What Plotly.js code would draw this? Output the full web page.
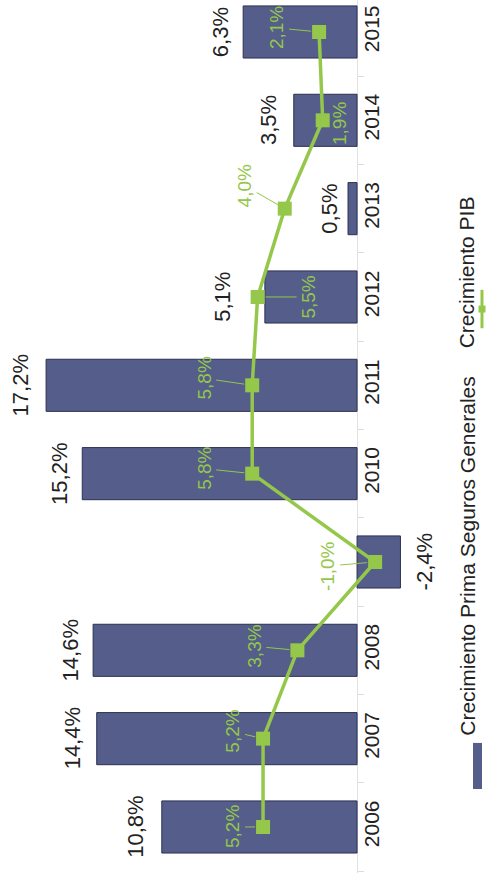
<!DOCTYPE html>
<html>
<head>
<meta charset="utf-8">
<script src="https://cdn.plot.ly/plotly-3.0.1.min.js"></script>
<style>html,body{margin:0;padding:0;background:#fff;}#chart{width:495px;height:873px;}</style>
</head>
<body>
<div id="chart"></div>
<script>
const years = ['2006','2007','2008','2009','2010','2011','2012','2013','2014','2015'];
const primaGrowth = [10.8, 14.4, 14.6, -2.4, 15.2, 17.2, 5.1, 0.5, 3.5, 6.3];
const pibGrowth = [5.2, 5.2, 3.3, -1.0, 5.8, 5.8, 5.5, 4.0, 1.9, 2.1];
const seriesNames = ['Crecimiento Prima Seguros Generales', 'Crecimiento PIB'];

const barColor = '#555d8b';
const green = '#94c74a';
const font = 'Liberation Sans, Arial, sans-serif';

// label placement (pixels)
const pibLabelOffsets = [[-30,0],[-30,-7],[-43,-4],[-47,4],[-48,-5],[-48,-7],[51,0],[-40,-23],[17,3],[-42,-4]];
const barLabelGap = [26,24,23,25,23,26,42,18,25,22];

const fmt = v => v.toFixed(1).replace('.', ',') + '%';

const traces = [
  {
    type: 'bar', orientation: 'h', name: seriesNames[0],
    x: primaGrowth, y: years,
    marker: {color: barColor, line: {color: '#2c3150', width: 1}},
    cliponaxis: false, hoverinfo: 'skip'
  },
  {
    type: 'scatter', mode: 'lines+markers', name: seriesNames[1],
    x: pibGrowth, y: years,
    line: {color: green, width: 3.5},
    marker: {symbol: 'square', size: 14, color: green},
    cliponaxis: false, hoverinfo: 'skip'
  }
];

const annotations = [];
primaGrowth.forEach((v, i) => annotations.push({
  x: v, y: i, xref: 'x', yref: 'y',
  text: fmt(v), textangle: -90, showarrow: false,
  xshift: (v >= 0 ? -1 : 1) * barLabelGap[i],
  font: {family: font, size: 22, color: '#222'}
}));
pibGrowth.forEach((v, i) => annotations.push({
  x: v, y: i, xref: 'x', yref: 'y',
  text: fmt(v), textangle: -90,
  showarrow: true, arrowhead: 0, arrowwidth: 1, arrowcolor: green,
  ax: pibLabelOffsets[i][0], ay: pibLabelOffsets[i][1], standoff: 8,
  font: {family: font, size: 19, color: green}
}));

annotations.push(
  {xref: 'paper', yref: 'paper', x: 0.970, y: 0.363, text: seriesNames[0], textangle: -90,
   showarrow: false, font: {family: font, size: 21, color: '#222'}},
  {xref: 'paper', yref: 'paper', x: 0.970, y: 0.777, text: seriesNames[1], textangle: -90,
   showarrow: false, font: {family: font, size: 21, color: '#222'}}
);

const shapes = [
  {type: 'rect', xref: 'paper', yref: 'paper', x0: 0.9556, x1: 0.9737, y0: 0.0962, y1: 0.149,
   fillcolor: barColor, line: {width: 0}},
  {type: 'line', xref: 'paper', yref: 'paper', x0: 0.9737, x1: 0.9737, y0: 0.624, y1: 0.668,
   line: {color: green, width: 3}},
  {type: 'rect', xref: 'paper', yref: 'paper', x0: 0.9667, x1: 0.9808, y0: 0.642, y1: 0.650,
   fillcolor: green, line: {width: 0}}
];

const layout = {
  width: 495, height: 873,
  margin: {l: 0, r: 0, t: 0, b: 0},
  paper_bgcolor: '#fff', plot_bgcolor: '#fff',
  separators: ',.',
  showlegend: false,
  bargap: 0.41,
  xaxis: {range: [19.75, -7.63], showgrid: false, showticklabels: false, zeroline: true,
          zerolinecolor: '#e2e2e2', zerolinewidth: 1, fixedrange: true},
  yaxis: {type: 'category', range: [-0.521, 9.362], anchor: 'free', position: 0.7212, side: 'right',
          showgrid: false, showline: false, ticks: 'outside', tickson: 'boundaries', ticklen: 6,
          tickcolor: '#dcdcdc', tickangle: -90, layer: 'below traces',
          tickfont: {family: font, size: 21, color: '#222'}, fixedrange: true},
  annotations: annotations,
  shapes: shapes
};

Plotly.newPlot('chart', traces, layout, {displayModeBar: false, staticPlot: true});
</script>
</body>
</html>
